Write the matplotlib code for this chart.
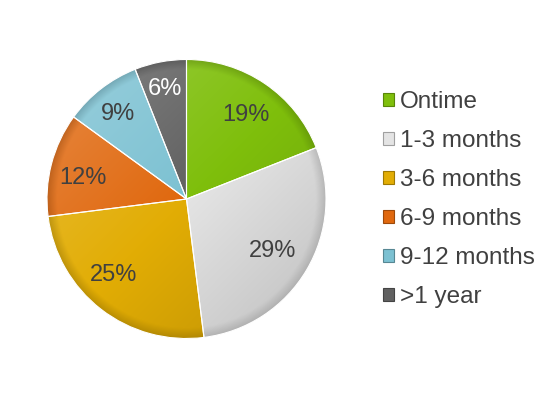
import numpy as np
import matplotlib
matplotlib.use("Agg")
import matplotlib.pyplot as plt
from matplotlib.colors import LinearSegmentedColormap, to_rgb
from matplotlib.patches import Patch
from matplotlib.transforms import ScaledTranslation

# Delay categories and their shares (%)
categories = ["Ontime", "1-3 months", "3-6 months", "6-9 months", "9-12 months", ">1 year"]
shares = [19, 29, 25, 12, 9, 6]
colors = ["#7fbf0c", "#e4e4e4", "#e2ad05", "#e0680e", "#7cc1d2", "#616161"]
label_colors = ["#404040", "#404040", "#404040", "#404040", "#404040", "#ffffff"]
# label placement: radial distance (fraction of radius) and angular nudge (deg)
label_dist = [0.752, 0.709, 0.74, 0.766, 0.798, 0.825]
label_turn = [0.0, 1.0, -7.4, 1.2, 0.0, 0.0]

plt.rcParams["font.family"] = ["Liberation Sans", "DejaVu Sans"]

W, H = 560, 397
fig = plt.figure(figsize=(W / 100, H / 100), dpi=100)
fig.patch.set_facecolor("white")

cx, cy, r = 186.5, 199.0, 139.5
lim = 1.05
half = lim * r
ax = fig.add_axes([(cx - half) / W, (H - cy - half) / H, 2 * half / W, 2 * half / H])
ax.axis("off")

wedges, _ = ax.pie(shares, colors=colors, startangle=90, counterclock=False,
                   radius=1.0, wedgeprops=dict(edgecolor="#ffffff", linewidth=0.8))


def shade(c, f):
    rgb = np.array(to_rgb(c))
    if f >= 0:
        return tuple(rgb + (1 - rgb) * f)
    return tuple(rgb * (1 + f))


# Soft lighting: brighter toward the upper left, darker toward the lower right
yy, xx = np.mgrid[1.05:-1.05:300j, -1.05:1.05:300j]
grad = np.clip((xx - yy) / 2.2 * 0.5 + 0.5, 0, 1)
rim = np.sqrt(xx ** 2 + yy ** 2)
for w, c in zip(wedges, colors):
    cmap = LinearSegmentedColormap.from_list("g", [shade(c, 0.25), c, shade(c, -0.18)])
    im = ax.imshow(grad, cmap=cmap, vmin=0, vmax=1, extent=(-1.05, 1.05, -1.05, 1.05),
                   zorder=2, interpolation="bilinear")
    im.set_clip_path(w)
    edge = np.zeros((300, 300, 4))
    edge[..., :3] = shade(c, -0.35)
    edge[..., 3] = np.clip((rim - 0.93) / 0.07, 0, 1) * 0.45
    im2 = ax.imshow(edge, extent=(-1.05, 1.05, -1.05, 1.05), zorder=3, interpolation="bilinear")
    im2.set_clip_path(w)
    w.set_zorder(4)
    w.set_facecolor("none")

text_tf = ax.transData + ScaledTranslation(0, -3 / 100, fig.dpi_scale_trans)
for w, v, tc, d, t in zip(wedges, shares, label_colors, label_dist, label_turn):
    mid = np.deg2rad((w.theta1 + w.theta2) / 2 + t)
    ax.text(d * np.cos(mid), d * np.sin(mid), f"{v}%", ha="center", va="center",
            fontsize=17, color=tc, zorder=5, transform=text_tf)

ax.set_xlim(-lim, lim)
ax.set_ylim(-lim, lim)
ax.set_aspect("equal")

handles = [Patch(facecolor=c, edgecolor=shade(c, -0.3), linewidth=0.8) for c in colors]
leg = fig.legend(handles, categories, loc="upper left", bbox_to_anchor=(383 / W, 1 - 91 / H),
                 frameon=False, fontsize=17.5, handlelength=0.45, handleheight=0.45,
                 handletextpad=0.25, labelspacing=0.70, borderpad=0, borderaxespad=0)
for t in leg.get_texts():
    t.set_color("#404040")

fig.savefig("out.png", dpi=100, facecolor="white")
